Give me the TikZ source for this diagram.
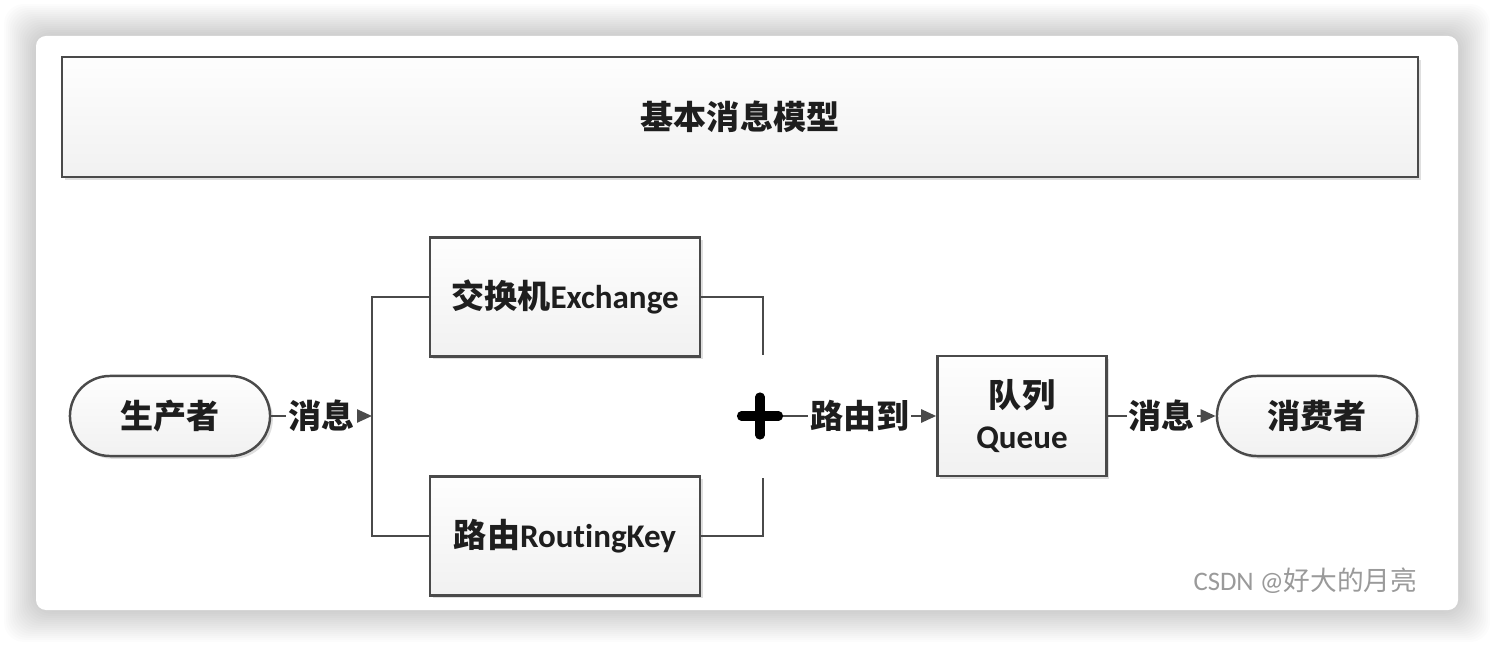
\documentclass[tikz,border=0pt]{standalone}
\usepackage{fontspec}
\setmainfont{Carlito}[Ligatures=NoCommon]
\newfontfamily\cjk{Noto Sans CJK SC}
\usetikzlibrary{positioning,shadows,arrows.meta}

\definecolor{linegray}{HTML}{4A4A4A}
\definecolor{txtgray}{HTML}{1E1E1E}
\definecolor{markgray}{HTML}{9A9A9A}

\newcommand{\zh}[1]{{\cjk #1}}

\tikzset{
  box/.style={draw=linegray, line width=0.7pt, top color=gray!1, bottom color=gray!11,
    drop shadow={shadow xshift=0.8pt, shadow yshift=-0.8pt, opacity=0.25},
    text=txtgray, align=center, font=\fontsize{9.4}{11.7}\selectfont\bfseries},
  procbox/.style={box, minimum width=2.7cm, minimum height=1.19cm},
  endbox/.style={box, rounded corners=0.4cm, minimum width=2cm, minimum height=0.8cm},
  wire/.style={draw=linegray, line width=0.7pt},
  msg/.style={wire, -{Triangle[length=1.5mm,width=1.3mm]}},
  lbl/.style={fill=white, inner sep=0.6pt, text=txtgray, font=\fontsize{9.4}{11}\selectfont\bfseries},
}

\begin{document}
\begin{tikzpicture}[x=0.01cm, y=-0.01cm]
    \useasboundingbox (0,0) rectangle (1494,646);
    % card with its shadow
    \foreach \i in {1,...,16}
        \fill[black, opacity=0.013, rounded corners=0.2cm] ({36-2*\i},{36-2*\i}) rectangle ({1458+2*\i},{610+2*\i});
    \fill[white, rounded corners=0.1cm] (36,36) rectangle (1458,610);

    \node[box, minimum width=13.55cm, minimum height=1.2cm] (title) at (740,117) {\zh{基本消息模型}};

    \node[endbox] (prod) at (170,416) {\zh{生产者}};
    \node[procbox] (exch) at (565,297) {\zh{交换机}Exchange};
    \node[procbox] (rkey) at (565,536) {\zh{路由}RoutingKey};
    \node[box, minimum width=1.69cm, minimum height=1.2cm] (queue) at (1022,416) {\zh{队列}\\Queue};
    \node[endbox] (cons) at (1317,416) {\zh{消费者}};

    \coordinate (bus) at (372,416);
    \coordinate (joinT) at (763,355);
    \coordinate (joinB) at (763,478);
    \coordinate (plus) at (760,416);
    \coordinate (plusE) at (783,416);

    \draw[wire] (exch.west) -| (bus) |- (rkey.west);
    \draw[wire] (exch.east) -| (joinT);
    \draw[wire] (rkey.east) -| (joinB);
    \draw[line width=2.6pt, line cap=round] ([xshift=-0.185cm]plus) -- ([xshift=0.185cm]plus)
        ([yshift=-0.19cm]plus) -- ([yshift=0.19cm]plus);

    \draw[msg] (prod) -- node[lbl] {\zh{消息}} (bus);
    \draw[msg] (plusE) -- node[lbl] {\zh{路由到}} (queue);
    \draw[msg] (queue) -- node[lbl] {\zh{消息}} (cons);

    \node[anchor=east, inner sep=0pt, text=markgray, font=\fontsize{7.6}{9}\selectfont] (mark) at (1418,581) {CSDN @\zh{好大的月亮}};
\end{tikzpicture}
\end{document}
